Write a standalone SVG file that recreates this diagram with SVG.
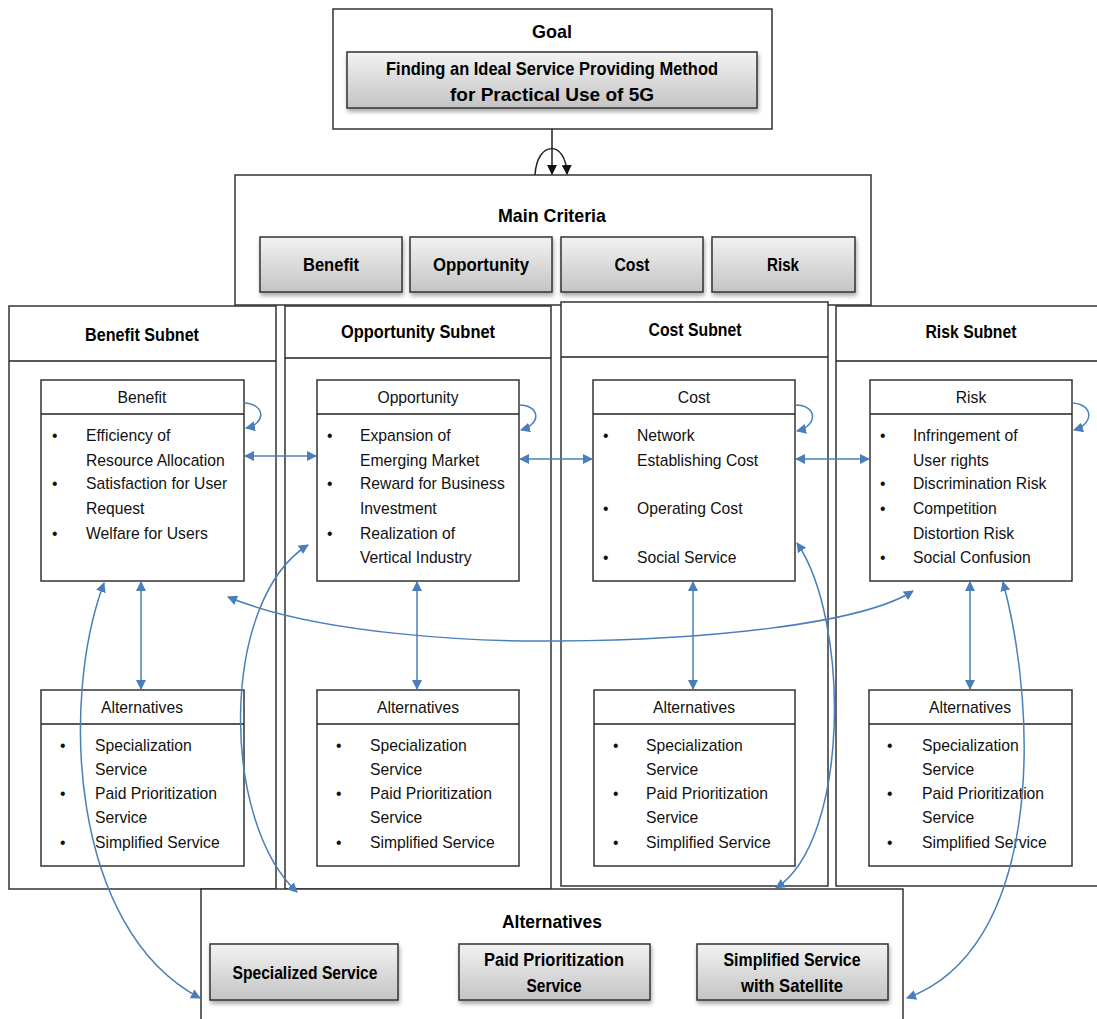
<svg xmlns="http://www.w3.org/2000/svg" width="1097" height="1019" viewBox="0 0 1097 1019">
<style>
.box{fill:#fff;stroke:#333;stroke-width:1.5}
.btn{fill:url(#g);stroke:#333;stroke-width:1.5;filter:url(#sh)}
.t{font-family:"Liberation Sans",Arial,sans-serif;font-weight:bold;font-size:19px;fill:#000;text-anchor:middle}
.n{font-family:"Liberation Sans",sans-serif;font-size:15.7px;fill:#111}
.h{text-anchor:middle}
.c{fill:none;stroke:#4a7ebb;stroke-width:1.5}
.k{fill:none;stroke:#222;stroke-width:1.5}
</style>
<defs>
<linearGradient id="g" x1="0" y1="0" x2="0" y2="1"><stop offset="0" stop-color="#f2f2f2"/><stop offset="1" stop-color="#c4c4c4"/></linearGradient>
<filter id="sh" x="-10%" y="-10%" width="130%" height="140%"><feDropShadow dx="1" dy="3" stdDeviation="2" flood-color="#000" flood-opacity="0.35"/></filter>
<marker id="a" viewBox="0 0 10 10" refX="9" refY="5" markerWidth="10" markerHeight="10" markerUnits="userSpaceOnUse" orient="auto-start-reverse"><path d="M0,0L10,5L0,10z" fill="#4a7ebb"/></marker>
<marker id="b" viewBox="0 0 10 10" refX="9" refY="5" markerWidth="10" markerHeight="10" markerUnits="userSpaceOnUse" orient="auto"><path d="M0,0L10,5L0,10z" fill="#111"/></marker>
</defs>

<g id="goal">
<rect class="box" x="333" y="9" width="439" height="120"/>
<text class="t" x="552" y="38" textLength="40" lengthAdjust="spacingAndGlyphs">Goal</text>
<rect class="btn" x="347" y="52" width="410" height="56"/>
<text class="t" x="552" y="75" textLength="332" lengthAdjust="spacingAndGlyphs">Finding an Ideal Service Providing Method</text>
<text class="t" x="552" y="101" textLength="204" lengthAdjust="spacingAndGlyphs">for Practical Use of 5G</text>
</g>

<g id="main-criteria">
<rect class="box" x="235" y="175" width="636" height="130"/>
<text class="t" x="552" y="222" textLength="108" lengthAdjust="spacingAndGlyphs">Main Criteria</text>
<rect class="btn" x="260" y="237" width="142" height="55"/><text class="t" x="331" y="271" textLength="56" lengthAdjust="spacingAndGlyphs">Benefit</text>
<rect class="btn" x="410" y="237" width="142" height="55"/><text class="t" x="481" y="271" textLength="96" lengthAdjust="spacingAndGlyphs">Opportunity</text>
<rect class="btn" x="561" y="237" width="142" height="55"/><text class="t" x="632" y="271" textLength="35" lengthAdjust="spacingAndGlyphs">Cost</text>
<rect class="btn" x="712" y="237" width="143" height="55"/><text class="t" x="783" y="271" textLength="32" lengthAdjust="spacingAndGlyphs">Risk</text>
</g>

<g id="benefit-subnet">
<rect class="box" x="9" y="306" width="267" height="583"/>
<line class="k" x1="9" y1="361" x2="276" y2="361"/>
<text class="t" x="142" y="341" textLength="114" lengthAdjust="spacingAndGlyphs">Benefit Subnet</text>
<g id="benefit-node">
<rect class="box" x="41" y="380" width="203" height="201"/>
<line class="k" x1="41" y1="414" x2="244" y2="414"/>
<text class="n h" x="142" y="403">Benefit</text>
<text class="n" x="52" y="441">•</text><text class="n" x="86" y="441">Efficiency of</text>
<text class="n" x="86" y="466">Resource Allocation</text>
<text class="n" x="52" y="489">•</text><text class="n" x="86" y="489">Satisfaction for User</text>
<text class="n" x="86" y="514">Request</text>
<text class="n" x="52" y="539">•</text><text class="n" x="86" y="539">Welfare for Users</text>
</g>
<g id="benefit-alt">
<rect class="box" x="41" y="690" width="203" height="176"/>
<line class="k" x1="41" y1="724" x2="244" y2="724"/>
<text class="n h" x="142" y="713">Alternatives</text>
<text class="n" x="60" y="751">•</text><text class="n" x="95" y="751">Specialization</text>
<text class="n" x="95" y="775">Service</text>
<text class="n" x="60" y="799">•</text><text class="n" x="95" y="799">Paid Prioritization</text>
<text class="n" x="95" y="823">Service</text>
<text class="n" x="60" y="848">•</text><text class="n" x="95" y="848">Simplified Service</text>
</g>
</g>

<g id="opportunity-subnet">
<rect class="box" x="285" y="306" width="266" height="583"/>
<line class="k" x1="285" y1="358" x2="551" y2="358"/>
<text class="t" x="418" y="338" textLength="154" lengthAdjust="spacingAndGlyphs">Opportunity Subnet</text>
<g id="opportunity-node">
<rect class="box" x="317" y="380" width="202" height="201"/>
<line class="k" x1="317" y1="414" x2="519" y2="414"/>
<text class="n h" x="418" y="403">Opportunity</text>
<text class="n" x="327" y="441">•</text><text class="n" x="360" y="441">Expansion of</text>
<text class="n" x="360" y="466">Emerging Market</text>
<text class="n" x="327" y="489">•</text><text class="n" x="360" y="489">Reward for Business</text>
<text class="n" x="360" y="514">Investment</text>
<text class="n" x="327" y="539">•</text><text class="n" x="360" y="539">Realization of</text>
<text class="n" x="360" y="563">Vertical Industry</text>
</g>
<g id="opportunity-alt">
<rect class="box" x="317" y="690" width="202" height="176"/>
<line class="k" x1="317" y1="724" x2="519" y2="724"/>
<text class="n h" x="418" y="713">Alternatives</text>
<text class="n" x="336" y="751">•</text><text class="n" x="370" y="751">Specialization</text>
<text class="n" x="370" y="775">Service</text>
<text class="n" x="336" y="799">•</text><text class="n" x="370" y="799">Paid Prioritization</text>
<text class="n" x="370" y="823">Service</text>
<text class="n" x="336" y="848">•</text><text class="n" x="370" y="848">Simplified Service</text>
</g>
</g>

<g id="cost-subnet">
<rect class="box" x="561" y="302" width="267" height="584"/>
<line class="k" x1="561" y1="357" x2="828" y2="357"/>
<text class="t" x="695" y="336" textLength="93" lengthAdjust="spacingAndGlyphs">Cost Subnet</text>
<g id="cost-node">
<rect class="box" x="593" y="380" width="202" height="201"/>
<line class="k" x1="593" y1="414" x2="795" y2="414"/>
<text class="n h" x="694" y="403">Cost</text>
<text class="n" x="603" y="441">•</text><text class="n" x="637" y="441">Network</text>
<text class="n" x="637" y="466">Establishing Cost</text>
<text class="n" x="603" y="514">•</text><text class="n" x="637" y="514">Operating Cost</text>
<text class="n" x="603" y="563">•</text><text class="n" x="637" y="563">Social Service</text>
</g>
<g id="cost-alt">
<rect class="box" x="594" y="690" width="201" height="176"/>
<line class="k" x1="594" y1="724" x2="795" y2="724"/>
<text class="n h" x="694" y="713">Alternatives</text>
<text class="n" x="613" y="751">•</text><text class="n" x="646" y="751">Specialization</text>
<text class="n" x="646" y="775">Service</text>
<text class="n" x="613" y="799">•</text><text class="n" x="646" y="799">Paid Prioritization</text>
<text class="n" x="646" y="823">Service</text>
<text class="n" x="613" y="848">•</text><text class="n" x="646" y="848">Simplified Service</text>
</g>
</g>

<g id="risk-subnet">
<rect class="box" x="836" y="306" width="270" height="580"/>
<line class="k" x1="836" y1="361" x2="1097" y2="361"/>
<text class="t" x="971" y="338" textLength="91" lengthAdjust="spacingAndGlyphs">Risk Subnet</text>
<g id="risk-node">
<rect class="box" x="870" y="380" width="202" height="201"/>
<line class="k" x1="870" y1="414" x2="1072" y2="414"/>
<text class="n h" x="971" y="403">Risk</text>
<text class="n" x="880" y="441">•</text><text class="n" x="913" y="441">Infringement of</text>
<text class="n" x="913" y="466">User rights</text>
<text class="n" x="880" y="489">•</text><text class="n" x="913" y="489">Discrimination Risk</text>
<text class="n" x="880" y="514">•</text><text class="n" x="913" y="514">Competition</text>
<text class="n" x="913" y="539">Distortion Risk</text>
<text class="n" x="880" y="563">•</text><text class="n" x="913" y="563">Social Confusion</text>
</g>
<g id="risk-alt">
<rect class="box" x="869" y="690" width="203" height="176"/>
<line class="k" x1="869" y1="724" x2="1072" y2="724"/>
<text class="n h" x="970" y="713">Alternatives</text>
<text class="n" x="887" y="751">•</text><text class="n" x="922" y="751">Specialization</text>
<text class="n" x="922" y="775">Service</text>
<text class="n" x="887" y="799">•</text><text class="n" x="922" y="799">Paid Prioritization</text>
<text class="n" x="922" y="823">Service</text>
<text class="n" x="887" y="848">•</text><text class="n" x="922" y="848">Simplified Service</text>
</g>
</g>

<g id="alternatives">
<rect class="box" x="201" y="889" width="702" height="140"/>
<text class="t" x="552" y="928" textLength="100" lengthAdjust="spacingAndGlyphs">Alternatives</text>
<rect class="btn" x="210" y="944" width="188" height="56"/><text class="t" x="305" y="979" textLength="145" lengthAdjust="spacingAndGlyphs">Specialized Service</text>
<rect class="btn" x="459" y="944" width="191" height="56"/><text class="t" x="554" y="966" textLength="140" lengthAdjust="spacingAndGlyphs">Paid Prioritization</text><text class="t" x="554" y="992" textLength="55" lengthAdjust="spacingAndGlyphs">Service</text>
<rect class="btn" x="697" y="944" width="191" height="56"/><text class="t" x="792" y="966" textLength="137" lengthAdjust="spacingAndGlyphs">Simplified Service</text><text class="t" x="792" y="992" textLength="102" lengthAdjust="spacingAndGlyphs">with Satellite</text>
</g>

<g id="connectors">
<line class="k" x1="552" y1="129" x2="552" y2="174" marker-end="url(#b)"/>
<path class="k" d="M535,175 C537,140 566,140 567,174" marker-end="url(#b)"/>

<path class="c" d="M244,403 C266,404 266,424 246,428" marker-end="url(#a)"/>
<path class="c" d="M519,405 C540,405 542,424 521,430" marker-end="url(#a)"/>
<path class="c" d="M795,405 C818,405 818,426 797,431" marker-end="url(#a)"/>
<path class="c" d="M1072,403 C1094,404 1094,424 1074,430" marker-end="url(#a)"/>

<line class="c" x1="245" y1="456" x2="316" y2="456" marker-start="url(#a)" marker-end="url(#a)"/>
<line class="c" x1="520" y1="459" x2="592" y2="459" marker-start="url(#a)" marker-end="url(#a)"/>
<line class="c" x1="796" y1="459" x2="869" y2="459" marker-start="url(#a)" marker-end="url(#a)"/>

<line class="c" x1="141" y1="582" x2="141" y2="689" marker-start="url(#a)" marker-end="url(#a)"/>
<line class="c" x1="417" y1="582" x2="417" y2="689" marker-start="url(#a)" marker-end="url(#a)"/>
<line class="c" x1="693" y1="582" x2="693" y2="689" marker-start="url(#a)" marker-end="url(#a)"/>
<line class="c" x1="970" y1="582" x2="970" y2="689" marker-start="url(#a)" marker-end="url(#a)"/>

<path class="c" d="M228,597 C320,635 480,642 560,641 C700,640 860,625 913,591" marker-start="url(#a)" marker-end="url(#a)"/>

<path class="c" d="M104,583 C60,700 70,930 200,998" marker-start="url(#a)" marker-end="url(#a)"/>
<path class="c" d="M308,545 C220,600 220,820 297,892" marker-start="url(#a)" marker-end="url(#a)"/>
<path class="c" d="M797,543 C850,620 850,840 776,888" marker-start="url(#a)" marker-end="url(#a)"/>
<path class="c" d="M1003,582 C1040,720 1040,950 907,998" marker-start="url(#a)" marker-end="url(#a)"/>
</g>
</svg>
